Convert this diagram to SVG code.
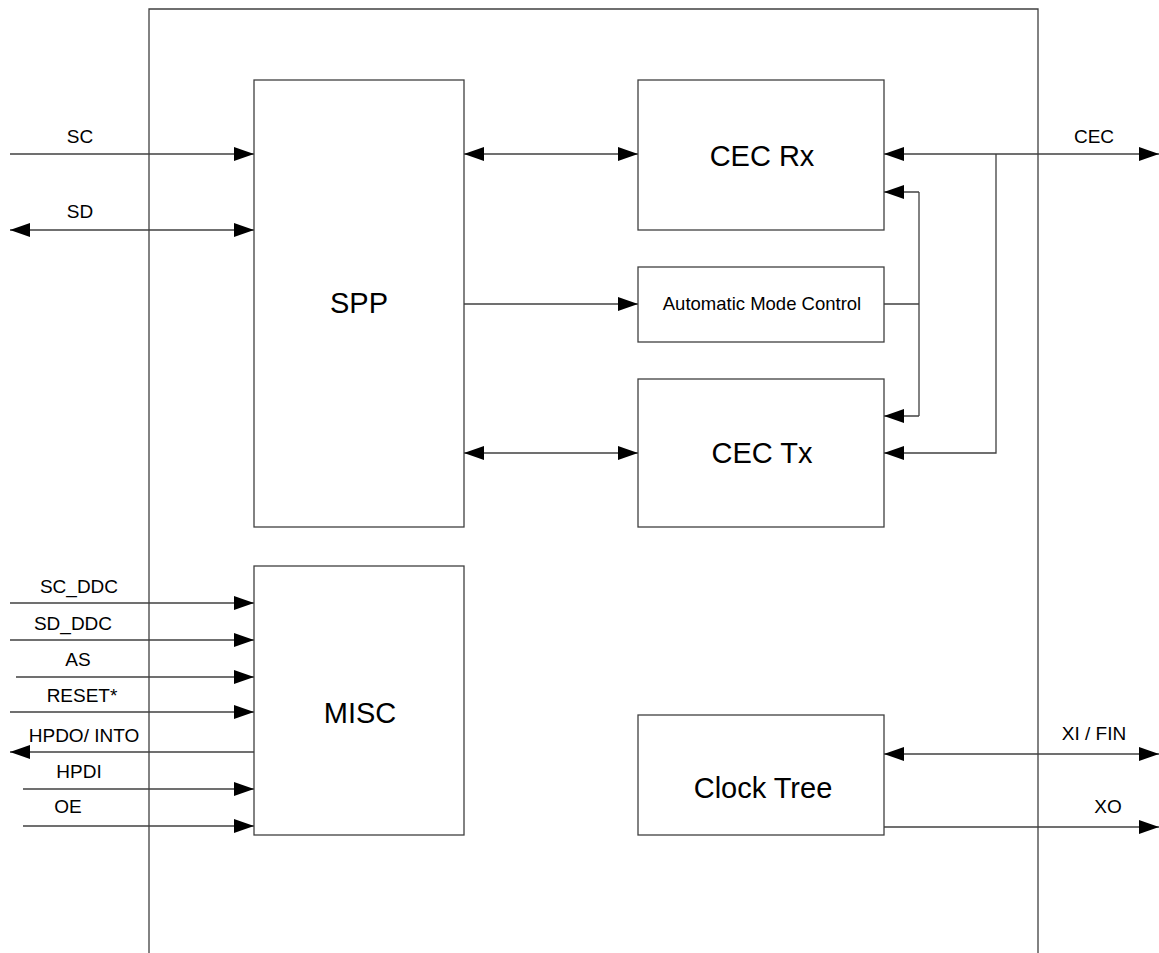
<svg xmlns="http://www.w3.org/2000/svg" width="1159" height="953" viewBox="0 0 1159 953">
<style>
.ln{fill:none;stroke:#404040;stroke-width:1.3}
.box{fill:#fff;stroke:#404040;stroke-width:1.3}
.big{font-family:"Liberation Sans",Arial,sans-serif;font-size:29px;fill:#000;text-anchor:middle}
.mid{font-family:"Liberation Sans",Arial,sans-serif;font-size:18.5px;fill:#000;text-anchor:middle}
.sm{font-family:"Liberation Sans",Arial,sans-serif;font-size:19px;fill:#000;text-anchor:middle}
.e{marker-end:url(#ah)}
.b{marker-start:url(#ah);marker-end:url(#ah)}
</style>
<defs>
<marker id="ah" viewBox="0 0 20 14" refX="20" refY="7" markerWidth="20" markerHeight="14" orient="auto-start-reverse" markerUnits="userSpaceOnUse">
<path d="M0,0 L20,7 L0,14 z" fill="#000"/>
</marker>
</defs>
<rect width="1159" height="953" fill="#fff"/>
<g id="frame"><path class="ln" d="M149,953 V9 H1038 V953"/></g>
<g id="connectors">
<path class="ln e" d="M10,154 H254"/>
<path class="ln b" d="M10,230 H254"/>
<path class="ln b" d="M464,154 H638"/>
<path class="ln e" d="M464,304 H638"/>
<path class="ln b" d="M464,453 H638"/>
<path class="ln b" d="M884,154 H1159"/>
<path class="ln e" d="M996,154 V453 H884"/>
<path class="ln" d="M884,304 H919 M919,192 V416"/>
<path class="ln e" d="M919,192 H884"/>
<path class="ln e" d="M919,416 H884"/>
<path class="ln e" d="M10,603 H254"/>
<path class="ln e" d="M10,640 H254"/>
<path class="ln e" d="M16,677 H254"/>
<path class="ln e" d="M10,712 H254"/>
<path class="ln e" d="M254,752 H10"/>
<path class="ln e" d="M23,789 H254"/>
<path class="ln e" d="M23,826 H254"/>
<path class="ln b" d="M884,754 H1159"/>
<path class="ln e" d="M884,827 H1159"/>
</g>
<g id="labels">
<text class="sm" x="80" y="143">SC</text>
<text class="sm" x="80" y="218">SD</text>
<text class="sm" x="1094" y="143">CEC</text>
<text class="sm" x="79" y="593">SC_DDC</text>
<text class="sm" x="73" y="630">SD_DDC</text>
<text class="sm" x="78" y="666">AS</text>
<text class="sm" x="82" y="702">RESET*</text>
<text class="sm" x="84" y="742">HPDO/ INTO</text>
<text class="sm" x="79" y="778">HPDI</text>
<text class="sm" x="68" y="813">OE</text>
<text class="sm" x="1094" y="740">XI / FIN</text>
<text class="sm" x="1108" y="813">XO</text>
</g>
<g id="spp"><rect class="box" x="254" y="80" width="210" height="447"/><text class="big" x="359" y="313">SPP</text></g>
<g id="cecrx"><rect class="box" x="638" y="80" width="246" height="150"/><text class="big" x="762" y="166">CEC Rx</text></g>
<g id="amc"><rect class="box" x="638" y="267" width="246" height="75"/><text class="mid" x="762" y="310">Automatic Mode Control</text></g>
<g id="cectx"><rect class="box" x="638" y="379" width="246" height="148"/><text class="big" x="762" y="463">CEC Tx</text></g>
<g id="misc"><rect class="box" x="254" y="566" width="210" height="269"/><text class="big" x="360" y="723">MISC</text></g>
<g id="clock"><rect class="box" x="638" y="715" width="246" height="120"/><text class="big" x="763" y="798">Clock Tree</text></g>
</svg>
